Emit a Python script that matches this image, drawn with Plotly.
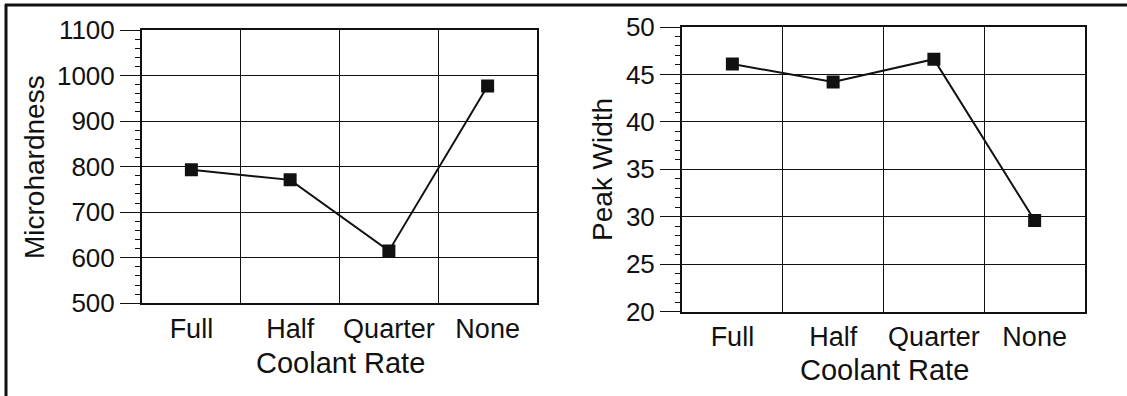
import plotly.graph_objects as go

W, H = 1127, 396

categories = ["Full", "Half", "Quarter", "None"]
microhardness = [793, 771, 615, 977]
peak_width = [46.1, 44.2, 46.6, 29.6]

left_ticks = [500, 600, 700, 800, 900, 1000, 1100]
right_ticks = [20, 25, 30, 35, 40, 45, 50]

FONT = "Liberation Sans, Arial, sans-serif"
INK = "#111111"


def px_x(p):
    return p / W


def px_y(p):
    return 1 - p / H


fig = go.Figure()

marker = dict(symbol="square", size=13, color=INK)
line = dict(color=INK, width=2)

fig.add_trace(go.Scatter(x=categories, y=microhardness, mode="lines+markers",
                         marker=marker, line=line, xaxis="x", yaxis="y",
                         showlegend=False))
fig.add_trace(go.Scatter(x=categories, y=peak_width, mode="lines+markers",
                         marker=marker, line=line, xaxis="x2", yaxis="y2",
                         showlegend=False))

xcommon = dict(type="category", categoryorder="array", categoryarray=categories,
               range=[-0.5, 3.5], tickson="boundaries", showgrid=True,
               gridcolor=INK, gridwidth=1, showline=True, linecolor=INK,
               linewidth=2, mirror=True, ticks="", ticklabelstandoff=0,
               tickangle=0, automargin=False,
               tickfont=dict(family=FONT, size=27, color=INK), zeroline=False)

ycommon = dict(showgrid=True, gridcolor=INK, gridwidth=1, showline=True,
               linecolor=INK, linewidth=2, mirror=True, ticks="outside",
               ticklen=20, tickwidth=1, tickcolor=INK, zeroline=False,
               automargin=False,
               tickfont=dict(family=FONT, size=26, color=INK),
               minor=dict(ticks="outside", ticklen=5, tickwidth=1,
                          tickcolor=INK, showgrid=False))

fig.update_layout(
    width=W, height=H,
    margin=dict(l=0, r=0, t=0, b=0, pad=0, autoexpand=False),
    paper_bgcolor="white", plot_bgcolor="white",
    xaxis=dict(domain=[px_x(142), px_x(537)], anchor="y", **xcommon),
    yaxis=dict(domain=[px_y(303.3), px_y(30)], anchor="x", range=[500, 1100],
               tickvals=left_ticks, **ycommon),
    xaxis2=dict(domain=[px_x(682), px_x(1085)], anchor="y2", **xcommon),
    yaxis2=dict(domain=[px_y(311.5), px_y(27)], anchor="x2", range=[20, 50],
                tickvals=right_ticks, **ycommon),
)
fig.layout.yaxis.minor.dtick = 20
fig.layout.yaxis.minor.tick0 = 500
fig.layout.yaxis2.minor.dtick = 1
fig.layout.yaxis2.minor.tick0 = 20

title_font = dict(family=FONT, size=29, color=INK)
annotations = [
    dict(text="Coolant Rate", x=px_x(340), y=px_y(363), xref="paper", yref="paper",
         showarrow=False, font=title_font, xanchor="center", yanchor="middle"),
    dict(text="Coolant Rate", x=px_x(884), y=px_y(370), xref="paper", yref="paper",
         showarrow=False, font=title_font, xanchor="center", yanchor="middle"),
    dict(text="Microhardness", x=px_x(34), y=px_y(167), xref="paper", yref="paper",
         showarrow=False, font=dict(family=FONT, size=28, color=INK),
         textangle=-90, xanchor="center", yanchor="middle"),
    dict(text="Peak Width", x=px_x(603), y=px_y(169), xref="paper", yref="paper",
         showarrow=False, font=dict(family=FONT, size=28, color=INK),
         textangle=-90, xanchor="center", yanchor="middle"),
]
fig.update_layout(annotations=annotations)

# outer frame (top and left edges of the scanned figure)
fig.add_shape(type="line", xref="paper", yref="paper", x0=px_x(5), x1=1,
              y0=px_y(5), y1=px_y(5), line=dict(color=INK, width=3))
fig.add_shape(type="line", xref="paper", yref="paper", x0=px_x(6), x1=px_x(6),
              y0=px_y(4), y1=0, line=dict(color=INK, width=3))

fig.write_html(
    "out.html",
    config={"displayModeBar": False},
    post_script="document.body.style.margin='0';document.body.style.overflow='hidden';",
)
